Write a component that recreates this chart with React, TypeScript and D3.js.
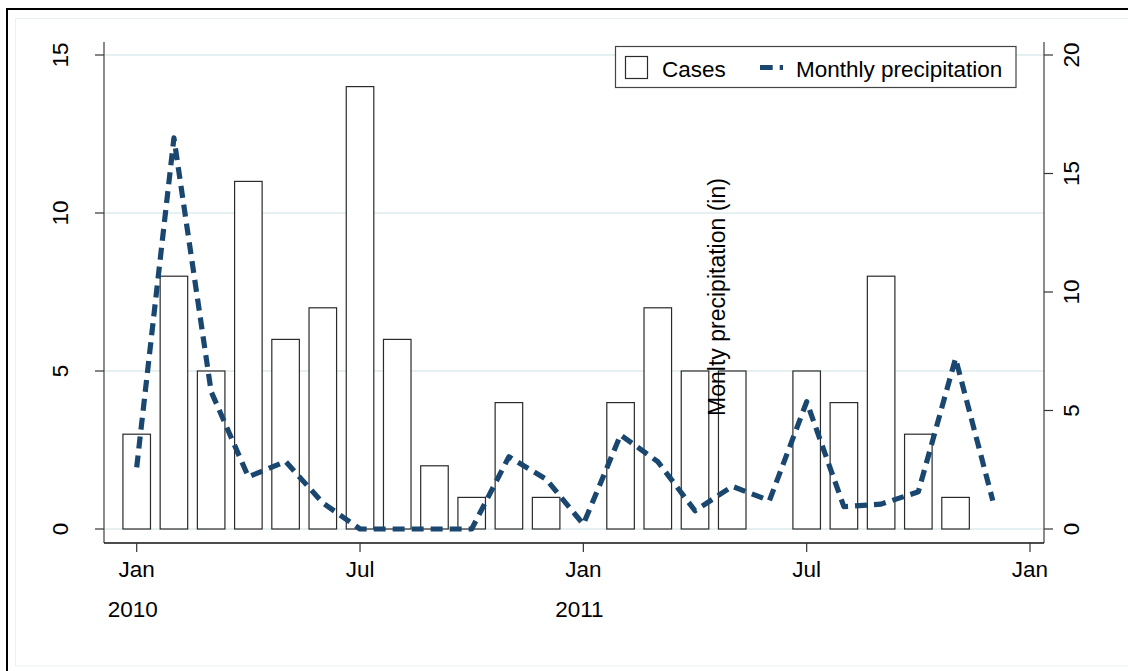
import React from 'react';
import * as d3 from 'd3';

// monthly data, Jan 2010 .. Dec 2011
const months = [
  '2010-01', '2010-02', '2010-03', '2010-04', '2010-05', '2010-06',
  '2010-07', '2010-08', '2010-09', '2010-10', '2010-11', '2010-12',
  '2011-01', '2011-02', '2011-03', '2011-04', '2011-05', '2011-06',
  '2011-07', '2011-08', '2011-09', '2011-10', '2011-11', '2011-12'
];
const cases: (number | null)[] = [3, 8, 5, 11, 6, 7, 14, 6, 2, 1, 4, 1, null, 4, 7, 5, 5, null, 5, 4, 8, 3, 1, null];
const precipitation = [2.6, 16.5, 5.8, 2.2, 2.85, 1.1, 0, 0, 0, 0, 3.05, 2.1, 0.2, 3.97, 2.84, 0.77, 1.8, 1.2, 5.37, 0.94, 1.05, 1.57, 7.2, 1.2];

const leftTicks = [0, 5, 10, 15];
const rightTicks = [0, 5, 10, 15, 20];
const monthTicks = [0, 6, 12, 18, 24];
const monthTickLabels = ['Jan', 'Jul', 'Jan', 'Jul', 'Jan'];
const yearTicks = [0, 12];
const yearLabels = ['2010', '2011'];

const W = 1128;
const H = 671;
const plot = { left: 104, right: 1044, top: 42, bottom: 543 };
const FONT = '"Liberation Sans", Arial, Helvetica, sans-serif';
const NAVY = '#1a476f';
const FS = 22.5;

const App = () => {
  const x = d3.scaleLinear().domain([0, months.length]).range([136.7, 1030]);
  const yLeft = d3.scaleLinear().domain([0, 15]).range([529, 55]);
  const yRight = d3.scaleLinear().domain([0, 20]).range([529, 55]);
  const barWidth = (x(1) - x(0)) * 0.74;

  const line = d3.line<number>()
    .x((d, i) => x(i))
    .y(d => yRight(d));

  return (
    <svg
      width={W}
      height={H}
      style={{ position: 'absolute', left: 0, top: 0, background: '#fff', fontFamily: FONT }}
    >
      {/* outer frames */}
      <rect x={7} y={9} width={W + 20} height={H + 20} fill="#fff" stroke="#000" strokeWidth={2} />
      <rect x={15.5} y={18.5} width={W + 20} height={647.5} fill="none" stroke="#eaf1f2" strokeWidth={1} />

      {/* gridlines */}
      {leftTicks.map(t => (
        <line key={'g' + t} x1={plot.left} x2={plot.right} y1={yLeft(t)} y2={yLeft(t)}
          stroke="#e6eff1" strokeWidth={2} />
      ))}

      {/* bars */}
      {cases.map((v, i) => v == null ? null : (
        <rect key={'b' + i}
          x={x(i) - barWidth / 2}
          y={yLeft(v)}
          width={barWidth}
          height={yLeft(0) - yLeft(v)}
          fill="#fff"
          stroke="#2a2a2a"
          strokeWidth={1.2} />
      ))}

      {/* precipitation line */}
      <path d={line(precipitation) || ''} fill="none" stroke={NAVY} strokeWidth={5.2}
        strokeDasharray="12,7" strokeLinejoin="round" />

      {/* left axis */}
      <line x1={plot.left} x2={plot.left} y1={plot.top} y2={plot.bottom} stroke="#6f6f6f" strokeWidth={1.6} />
      {leftTicks.map(t => (
        <g key={'l' + t}>
          <line x1={plot.left - 9} x2={plot.left} y1={yLeft(t)} y2={yLeft(t)} stroke="#333" strokeWidth={1.2} />
          <text transform={`translate(68,${yLeft(t)}) rotate(-90)`} textAnchor="middle"
            fontSize={FS} fill="#000">{t}</text>
        </g>
      ))}

      {/* right axis */}
      <line x1={plot.right} x2={plot.right} y1={plot.top} y2={plot.bottom} stroke="#6f6f6f" strokeWidth={1.6} />
      {rightTicks.map(t => (
        <g key={'r' + t}>
          <line x1={plot.right} x2={plot.right + 9} y1={yRight(t)} y2={yRight(t)} stroke="#333" strokeWidth={1.2} />
          <text transform={`translate(1079,${yRight(t)}) rotate(-90)`} textAnchor="middle"
            fontSize={FS} fill="#000">{t}</text>
        </g>
      ))}

      {/* bottom axis */}
      <line x1={plot.left} x2={plot.right} y1={plot.bottom} y2={plot.bottom} stroke="#111" strokeWidth={1.4} />
      {monthTicks.map((t, i) => (
        <g key={'m' + t}>
          <line x1={x(t)} x2={x(t)} y1={plot.bottom} y2={plot.bottom + 9} stroke="#333" strokeWidth={1.2} />
          <text x={x(t)} y={577} textAnchor="middle" fontSize={FS} fill="#000">{monthTickLabels[i]}</text>
        </g>
      ))}
      {yearTicks.map((t, i) => (
        <text key={'y' + t} x={x(t) - 4} y={617} textAnchor="middle" fontSize={FS} fill="#000">{yearLabels[i]}</text>
      ))}

      {/* misplaced axis title, as in the original */}
      <text transform="translate(725,297) rotate(-90)" textAnchor="middle" fontSize={23} fill="#000">
        Monlty precipitation (in)
      </text>

      {/* legend */}
      <g>
        <rect x={615.5} y={46.5} width={400.5} height={41} fill="#fff" stroke="#444" strokeWidth={1.2} />
        <rect x={625.5} y={56.5} width={22} height={22} fill="#fff" stroke="#2a2a2a" strokeWidth={1.2} />
        <text x={662} y={77} fontSize={FS} fill="#000">Cases</text>
        <line x1={760} x2={783} y1={67.5} y2={67.5} stroke={NAVY} strokeWidth={5} strokeDasharray="12.7,7" />
        <text x={796} y={77} fontSize={FS} fill="#000">Monthly precipitation</text>
      </g>
    </svg>
  );
};

export default App;
